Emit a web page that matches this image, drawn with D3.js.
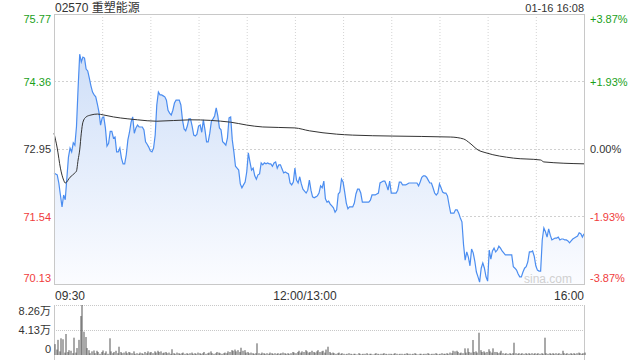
<!DOCTYPE html>
<html>
<head>
<meta charset="utf-8">
<script src="https://cdn.jsdelivr.net/npm/d3@7"></script>
<style>
  body { margin: 0; background: #fff; }
  text { font-family: "Liberation Sans", Arial, "Noto Sans CJK SC", sans-serif; }
</style>
</head>
<body>
<div id="chart"></div>
<script>
var title = "02570 重塑能源";
var stamp = "01-16 16:08";
var prevClose = 72.95;
var priceTicks = [75.77, 74.36, 72.95, 71.54, 70.13];
var pctTicks = ["+3.87%", "+1.93%", "0.00%", "-1.93%", "-3.87%"];
var timeLabels = ["09:30", "12:00/13:00", "16:00"];
var timeLabelMin = [0, 150, 330];
var volTicks = [8.26, 4.13, 0];
var volTickLabels = ["8.26万", "4.13万", "0"];

// price per trading minute (0 = 09:30, 150 = 12:00/13:00, 330 = 16:00)
var prices = [
72.45,72.43,72.41,72.24,71.99,71.74,71.99,71.89,72.34,72.78,72.97,72.89,73.08,73.03,73.42,74.22,74.93,74.77,74.87,74.85,
74.62,74.58,74.43,74.27,74.14,74.08,74.04,73.89,73.72,73.45,73.60,73.62,73.39,73.01,73.07,73.32,73.32,73.18,73.20,72.89,
72.89,72.97,72.76,72.64,72.64,72.83,73.14,73.30,73.51,73.62,73.28,73.39,73.45,73.41,73.41,73.41,73.35,73.10,73.05,72.99,
72.91,72.89,72.97,73.24,73.87,74.14,74.08,74.08,74.06,74.04,73.97,73.76,73.70,73.66,73.76,73.91,73.97,73.97,73.97,73.87,
73.56,73.37,73.33,73.43,73.58,73.58,73.43,73.24,73.22,73.26,73.43,73.45,73.30,73.56,73.35,73.10,73.10,73.28,73.53,73.58,
73.64,73.81,73.64,73.39,73.35,73.10,73.07,73.03,73.18,73.60,73.62,73.14,72.89,72.59,72.55,72.51,72.22,72.14,72.20,72.26,
72.47,72.87,72.68,72.51,72.55,72.39,72.32,72.41,72.43,72.66,72.62,72.66,72.64,72.66,72.64,72.64,72.59,72.66,72.68,72.55,
72.62,72.62,72.53,72.45,72.47,72.45,72.43,72.24,72.20,72.26,72.55,72.30,72.24,72.37,72.22,72.11,72.07,72.03,72.09,72.30,
72.09,71.95,71.93,71.95,71.97,72.03,72.18,72.14,72.28,71.91,71.84,71.86,71.80,71.76,71.72,71.63,71.68,72.01,72.05,72.32,
72.26,72.05,71.82,71.70,71.74,71.74,71.74,71.82,72.01,72.11,72.11,72.03,71.84,71.84,71.84,71.84,71.84,71.88,71.99,71.99,
71.99,72.01,72.03,72.24,72.26,72.28,72.28,72.20,72.09,72.28,72.03,72.03,72.03,72.03,72.09,72.26,72.26,72.20,72.20,72.20,
72.22,72.24,72.24,72.24,72.24,72.24,72.24,72.18,72.26,72.36,72.39,72.39,72.36,72.30,72.24,72.24,72.14,72.03,71.99,72.03,
72.22,72.14,72.05,72.03,72.03,71.97,71.78,71.61,71.61,71.61,71.68,71.68,71.61,71.51,71.43,70.95,70.63,70.80,70.69,70.51,
70.86,70.78,70.61,70.38,70.28,70.17,70.46,70.57,70.46,70.28,70.19,70.84,70.65,70.82,70.88,70.80,70.84,70.92,70.88,70.82,
70.78,70.74,70.74,70.74,70.74,70.74,70.49,70.46,70.42,70.34,70.28,70.28,70.38,70.46,70.49,70.59,70.80,70.80,70.82,70.71,
70.51,70.42,70.40,70.40,71.05,71.30,71.22,71.11,71.28,71.15,71.05,71.07,71.09,71.09,71.11,71.05,71.07,71.07,71.05,71.05,
71.03,70.99,71.03,71.07,71.09,71.11,71.13,71.20,71.18,71.11,71.18
];

// average price line
var avgMin = [0,2,4,6,7,10,13,14,15,16,17,18,20,23,27,31,37,46,52,64,85,110,120,130,150,159,176,186,211,247,255,259,264,269,286,303,305,330];
var avgPrice = [73.28,72.97,72.55,72.30,72.24,72.36,72.45,72.49,72.72,72.93,73.28,73.51,73.62,73.66,73.68,73.66,73.62,73.58,73.56,73.53,73.56,73.51,73.45,73.41,73.39,73.33,73.26,73.24,73.22,73.20,73.16,73.07,72.93,72.87,72.76,72.72,72.68,72.64];

// volume per minute, in 万 shares
var volumes = [
1.8,0.9,2.5,0.6,2.76,2.6,0.4,3.47,0.5,0.8,0.7,0.3,2.86,0.4,1.15,2.5,6.44,8.26,3.85,2.97,
1.15,0.8,0.3,0.6,0.75,0.3,0.7,0.5,0.2,0.5,0.75,0.3,0.6,0.2,2.76,0.6,0.3,0.5,0.7,0.3,
1.37,0.5,0.3,0.4,0.6,0.3,0.5,0.4,0.3,0.6,0.2,0.3,0.2,0.4,0.3,0.2,0.5,0.3,0.6,0.4,
0.5,0.3,0.6,0.4,0.7,0.5,0.6,0.3,0.4,0.5,0.3,0.4,0.2,0.95,0.3,0.2,0.4,0.3,0.2,0.3,
0.4,0.2,0.3,0.2,0.3,0.4,0.2,0.3,0.2,0.4,0.3,0.2,0.3,0.5,0.2,0.3,0.4,0.6,0.3,0.2,
0.3,0.5,0.4,0.3,0.2,0.3,0.4,0.3,0.6,0.5,0.8,0.7,0.9,0.6,0.8,0.5,1.2,0.7,0.8,0.4,
0.5,0.3,0.4,0.3,0.2,0.3,1.93,0.3,0.2,0.4,0.3,0.2,0.3,0.2,0.4,0.3,0.2,0.3,0.2,0.3,
0.2,0.3,0.4,0.3,0.2,0.3,0.2,0.3,0.5,0.4,0.3,0.5,0.7,0.4,0.6,0.5,0.8,0.6,0.4,0.5,
0.7,0.5,0.4,0.6,0.8,0.5,0.6,0.7,0.4,0.9,1.37,0.5,0.3,0.4,0.3,0.2,0.3,0.4,0.2,0.3,
0.2,0.1,0.2,0.3,0.2,0.1,0.2,0.2,0.1,0.3,0.2,0.1,0.2,0.2,0.3,0.1,0.2,0.2,0.1,0.2,
0.3,0.2,0.1,0.2,0.2,0.3,0.2,0.1,0.2,0.2,0.1,0.2,0.3,0.2,0.1,0.2,0.2,0.1,0.2,0.3,
0.2,0.2,0.1,0.2,0.3,0.2,0.1,0.2,0.2,0.1,0.2,0.2,0.3,0.2,0.1,0.2,0.2,0.3,0.2,0.1,
0.2,0.3,0.2,0.2,0.3,0.2,0.4,0.3,0.7,0.6,0.7,0.5,0.3,0.4,0.3,1.1,0.4,1.1,0.5,0.4,
2.48,0.5,0.6,0.4,3.68,0.8,0.5,0.6,0.4,0.5,0.95,0.6,0.4,1.1,0.5,0.5,0.3,0.4,0.7,0.3,
0.2,0.3,0.2,0.3,0.2,0.3,2.03,0.3,0.2,0.3,0.2,0.3,0.2,0.3,0.2,0.3,0.2,0.3,0.2,0.3,
0.2,0.3,0.2,0.3,0.2,2.86,0.3,0.2,0.3,0.2,0.3,0.2,0.3,0.2,0.3,0.2,0.7,0.3,0.2,0.3,
0.2,0.3,0.2,0.3,0.2,0.3,0.4,0.3,0.2,0.3,0.4
];

var svgWidth = 640, svgHeight = 360;
var plot = {left: 54, right: 584, top: 14, bottom: 284};
var volPlot = {top: 305, bottom: 355};
var green = "#1a9f1a", red = "#f03c3c", ink = "#333";

var svg = d3.select("#chart").append("svg")
  .attr("width", svgWidth).attr("height", svgHeight)
  .style("display", "block");
svg.append("rect").attr("width", svgWidth).attr("height", svgHeight).attr("fill", "#fff");

var x = d3.scaleLinear().domain([0, 330]).range([plot.left, plot.right]);
var y = d3.scaleLinear().domain([70.13, 75.77]).range([plot.bottom, plot.top]);
var yv = d3.scaleLinear().domain([0, 8.26]).range([volPlot.bottom, volPlot.top]);

function colorFor(v) {
  if (Math.abs(v - prevClose) < 0.005) return ink;
  return v > prevClose ? green : red;
}

// gradient for area
var defs = svg.append("defs");
var grad = defs.append("linearGradient").attr("id", "fillGrad")
  .attr("x1", 0).attr("y1", 0).attr("x2", 0).attr("y2", 1);
grad.append("stop").attr("offset", "0%").attr("stop-color", "#cfdff8");
grad.append("stop").attr("offset", "100%").attr("stop-color", "#fbfcff");

// grid lines
var gridMins = d3.range(30, 330, 30);
svg.append("g").selectAll("line").data(gridMins).enter().append("line")
  .attr("x1", d => x(d) + 0.5).attr("x2", d => x(d) + 0.5)
  .attr("y1", plot.top).attr("y2", plot.bottom)
  .attr("stroke", "#d4d4d4").attr("stroke-dasharray", "1,2");
svg.append("g").selectAll("line").data(priceTicks.slice(1, 4)).enter().append("line")
  .attr("x1", plot.left).attr("x2", plot.right)
  .attr("y1", d => Math.round(y(d)) + 0.5).attr("y2", d => Math.round(y(d)) + 0.5)
  .attr("stroke", "#d0d0d0").attr("stroke-dasharray", "2,2");

// area + price line
var area = d3.area().x((d, i) => x(i)).y0(plot.bottom).y1(d => y(d));
svg.append("path").datum(prices).attr("d", area).attr("fill", "url(#fillGrad)");

var line = d3.line().x((d, i) => x(i)).y(d => y(d));
svg.append("path").datum(prices).attr("d", line)
  .attr("fill", "none").attr("stroke", "#4b8df0").attr("stroke-width", 1.2);

var avgLine = d3.line().x(d => x(d[0])).y(d => y(d[1])).curve(d3.curveMonotoneX);
svg.append("path").datum(avgMin.map((m, i) => [m, avgPrice[i]])).attr("d", avgLine)
  .attr("fill", "none").attr("stroke", "#333").attr("stroke-width", 1);

// frame
svg.append("rect")
  .attr("x", plot.left + 0.5).attr("y", plot.top + 0.5)
  .attr("width", plot.right - plot.left).attr("height", plot.bottom - plot.top)
  .attr("fill", "none").attr("stroke", "#c8c8c8");

// watermark
svg.append("text").attr("x", plot.right - 12).attr("y", plot.bottom - 1)
  .attr("text-anchor", "end").attr("font-size", 12).attr("fill", "#d0d0d0")
  .text("sina.com");

// price labels left
svg.append("g").selectAll("text").data(priceTicks).enter().append("text")
  .attr("x", plot.left - 3)
  .attr("y", (d, i) => y(d) + (i === 0 ? 9 : i === 4 ? -2 : 4))
  .attr("text-anchor", "end").attr("font-size", 11)
  .attr("fill", d => colorFor(d))
  .text(d => d.toFixed(2));

// percent labels right
svg.append("g").selectAll("text").data(priceTicks).enter().append("text")
  .attr("x", plot.right + 6)
  .attr("y", (d, i) => y(d) + (i === 0 ? 9 : i === 4 ? -2 : 4))
  .attr("font-size", 11)
  .attr("fill", d => colorFor(d))
  .text((d, i) => pctTicks[i]);

// header
svg.append("text").attr("x", plot.left + 1).attr("y", 12)
  .attr("font-size", 12).attr("fill", ink).text(title);
svg.append("text").attr("x", plot.right).attr("y", 12)
  .attr("text-anchor", "end").attr("font-size", 11).attr("fill", ink).text(stamp);

// time labels
svg.append("g").selectAll("text").data(timeLabels).enter().append("text")
  .attr("x", (d, i) => i === 1 ? x(timeLabelMin[i]) + 10 : x(timeLabelMin[i]) + (i === 0 ? 1 : 0))
  .attr("y", 300)
  .attr("text-anchor", (d, i) => ["start", "middle", "end"][i])
  .attr("font-size", 12).attr("fill", ink)
  .text(d => d);

// volume panel
svg.append("g").selectAll("line").data(volTicks.slice(0, 2)).enter().append("line")
  .attr("x1", plot.left).attr("x2", plot.right)
  .attr("y1", d => Math.round(yv(d)) + 0.5).attr("y2", d => Math.round(yv(d)) + 0.5)
  .attr("stroke", "#c8c8c8").attr("stroke-dasharray", "1,1");
svg.append("line").attr("x1", plot.left + 0.5).attr("x2", plot.left + 0.5)
  .attr("y1", volPlot.top).attr("y2", svgHeight).attr("stroke", "#c8c8c8");
svg.append("line").attr("x1", plot.right + 0.5).attr("x2", plot.right + 0.5)
  .attr("y1", volPlot.top).attr("y2", svgHeight).attr("stroke", "#c8c8c8");

svg.append("g").selectAll("rect").data(volumes).enter().append("rect")
  .attr("x", (d, i) => Math.round(x(i)) + 0.5)
  .attr("y", d => yv(d))
  .attr("width", 1)
  .attr("height", d => volPlot.bottom - yv(d))
  .attr("fill", "#555");

svg.append("g").selectAll("text").data(volTicks).enter().append("text")
  .attr("x", plot.left - 3)
  .attr("y", (d, i) => yv(d) + (i === 0 ? 10 : i === 2 ? -2 : 4))
  .attr("text-anchor", "end").attr("font-size", 11).attr("fill", ink)
  .text((d, i) => volTickLabels[i]);
</script>
</body>
</html>
